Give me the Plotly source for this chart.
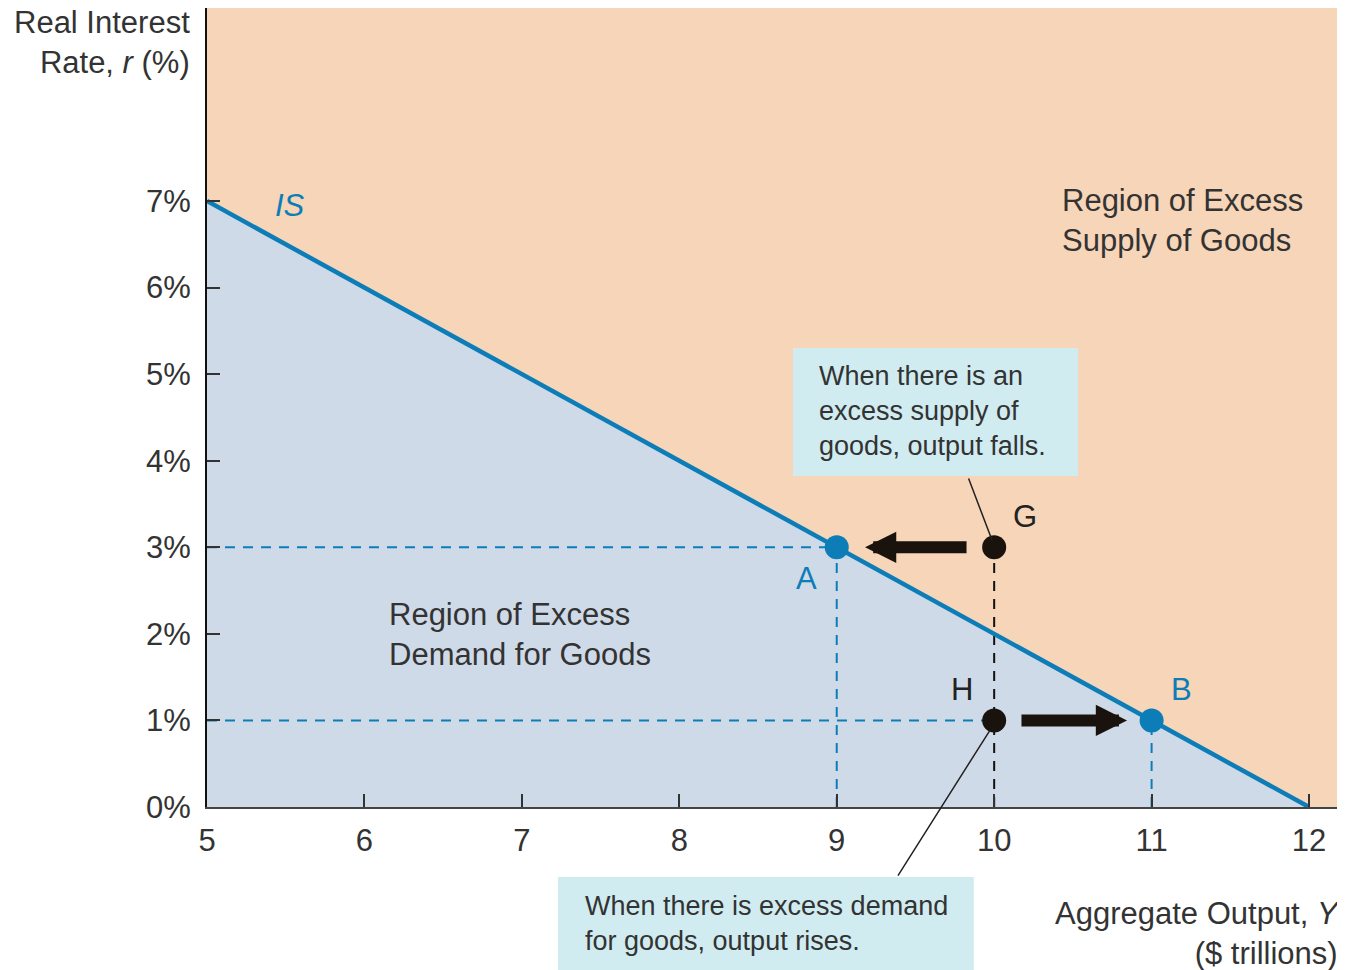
import plotly.graph_objects as go

# ---- data ----
is_x = [5, 12]
is_y = [7, 0]
region_x = [5, 5, 12]
region_y = [0, 7, 0]
eq_names = ["A", "B"]
eq_x = [9, 11]
eq_y = [3, 1]
off_names = ["G", "H"]
off_x = [10, 10]
off_y = [3, 1]
arrow_from_x = [9.834, 10.164]
arrow_to_x = [9.18, 10.844]
arrow_y = [3, 1]
x_ticks = [5, 6, 7, 8, 9, 10, 11, 12]
y_ticks = [0, 1, 2, 3, 4, 5, 6, 7]
y_ticktext = ["0%", "1%", "2%", "3%", "4%", "5%", "6%", "7%"]

BLUE = "rgb(12,125,183)"
ORANGE = "rgb(246,213,184)"
LIGHTBLUE = "rgb(207,218,232)"
CYAN = "rgb(208,236,240)"
DARK = "rgb(26,18,12)"
TXT = "#333333"
FONT = "Liberation Sans"
BIG = 31
SMALL = 27

fig = go.Figure()

# excess demand region (under IS)
fig.add_trace(go.Scatter(x=region_x, y=region_y, fill="toself", mode="none",
                         fillcolor=LIGHTBLUE, hoverinfo="skip", showlegend=False))

# dashed guides
dash_blue = dict(color=BLUE, width=2, dash="10px,8px")
fig.add_trace(go.Scatter(x=[5, eq_x[0]], y=[eq_y[0], eq_y[0]], mode="lines", line=dash_blue, showlegend=False))
fig.add_trace(go.Scatter(x=[eq_x[0], eq_x[0]], y=[0, eq_y[0]], mode="lines", line=dash_blue, showlegend=False))
fig.add_trace(go.Scatter(x=[5, off_x[1]], y=[off_y[1], off_y[1]], mode="lines", line=dash_blue, showlegend=False))
fig.add_trace(go.Scatter(x=[eq_x[1], eq_x[1]], y=[0, eq_y[1]], mode="lines", line=dash_blue, showlegend=False))
fig.add_trace(go.Scatter(x=[off_x[0], off_x[0]], y=[0, off_y[0]], mode="lines",
                         line=dict(color="#111111", width=2, dash="10px,8px"), showlegend=False))

# IS curve
fig.add_trace(go.Scatter(x=is_x, y=is_y, mode="lines", line=dict(color=BLUE, width=4.5), showlegend=False))

# points
fig.add_trace(go.Scatter(x=eq_x, y=eq_y, mode="markers", marker=dict(color=BLUE, size=24),
                         showlegend=False, cliponaxis=False))
fig.add_trace(go.Scatter(x=off_x, y=off_y, mode="markers", marker=dict(color=DARK, size=24),
                         showlegend=False, cliponaxis=False))

annotations = []
# thick arrows
for fx, tx, ay in zip(arrow_from_x, arrow_to_x, arrow_y):
    annotations.append(dict(x=tx, y=ay, ax=fx, ay=ay, xref="x", yref="y", axref="x", ayref="y",
                            text="", showarrow=True, arrowhead=2, arrowwidth=12, arrowsize=0.52,
                            arrowcolor=DARK, standoff=0))
# leader lines
annotations.append(dict(x=9.986, y=3.084, ax=9.834, ay=3.812, xref="x", yref="y", axref="x", ayref="y",
                        text="", showarrow=True, arrowhead=0, arrowwidth=1.5, arrowcolor="#222222", standoff=0))
annotations.append(dict(x=9.974, y=0.889, ax=9.383, ay=-0.809, xref="x", yref="y", axref="x", ayref="y",
                        text="", showarrow=True, arrowhead=0, arrowwidth=1.5, arrowcolor="#222222", standoff=0))

def label(x, y, text, size=BIG, color=TXT, xanchor="center", yanchor="middle", align="center", xref="x", yref="y"):
    annotations.append(dict(x=x, y=y, xref=xref, yref=yref, text=text, showarrow=False,
                            font=dict(family=FONT, size=size, color=color),
                            xanchor=xanchor, yanchor=yanchor, align=align))

label(5.527, 6.95, "<i>IS</i>", color=BLUE)
label(8.811, 2.645, eq_names[0], color=BLUE)
label(11.187, 1.352, eq_names[1], color=BLUE)
label(10.196, 3.361, off_names[0], color="#222222")
label(9.796, 1.352, off_names[1], color="#222222")
label(10.418, 6.78, "Region of Excess<br>Supply of Goods", xanchor="left", align="left")
label(6.143, 1.998, "Region of Excess<br>Demand for Goods", xanchor="left", align="left")
label(8.875, 4.574, "When there is an<br>excess supply of<br>goods, output falls.", size=SMALL,
      xanchor="left", align="left")
label(0.3324, -0.1464, "When there is excess demand<br>for goods, output rises.", size=SMALL,
      xanchor="left", align="left", xref="paper", yref="paper")
label(-0.0133, 0.9574, "Real Interest<br>Rate, <i>r</i> (%)", xanchor="right", align="right",
      xref="paper", yref="paper")
label(1.0035, -0.1577, "Aggregate Output, <i>Y</i><br>($ trillions)", xanchor="right", align="right",
      xref="paper", yref="paper")

shapes = [
    dict(type="rect", xref="x", yref="y", x0=8.722, x1=10.533, y0=3.824, y1=5.302,
         fillcolor=CYAN, line=dict(width=0), layer="below"),
    dict(type="rect", xref="paper", yref="paper", x0=0.3103, x1=0.678, y0=-0.215, y1=-0.0876,
         fillcolor=CYAN, line=dict(width=0), layer="below"),
]

fig.update_layout(
    width=1345, height=970,
    margin=dict(l=199, r=15, t=0, b=171),
    paper_bgcolor="white", plot_bgcolor=ORANGE,
    annotations=annotations, shapes=shapes,
    showlegend=False,
    font=dict(family=FONT, color=TXT),
)
fig.update_xaxes(range=[5, 12.184], tickvals=x_ticks, showgrid=False, zeroline=False,
                 showline=True, linecolor="#444444", linewidth=2,
                 ticks="inside", ticklen=13, tickwidth=2, tickcolor="#333333",
                 tickfont=dict(family=FONT, size=BIG, color=TXT), ticklabelstandoff=5)
fig.update_yaxes(range=[0, 9.23], tickvals=y_ticks, ticktext=y_ticktext, showgrid=False, zeroline=False,
                 showline=True, linecolor="#111111", linewidth=2,
                 ticks="inside", ticklen=13, tickwidth=2, tickcolor="#333333",
                 tickfont=dict(family=FONT, size=BIG, color=TXT), ticklabelstandoff=8)

fig.write_html("out.html")
